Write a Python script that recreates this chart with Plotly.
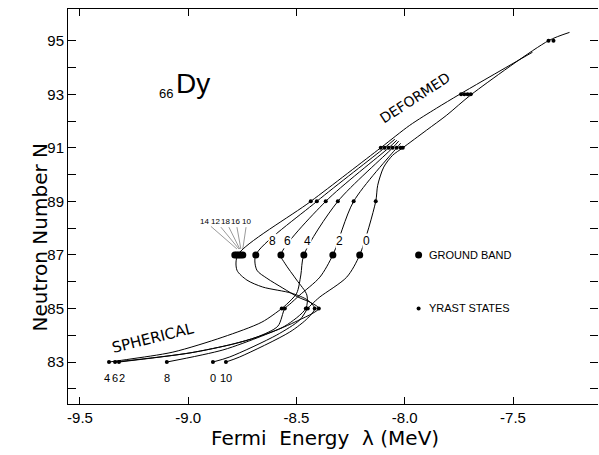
import plotly.graph_objects as go

# ---------------- data ----------------
# Ground band (N = 87) Fermi energies by spin
gb_spins = [0, 2, 4, 6, 8, 14, 12, 18, 16, 10]
gb_E = [-8.208, -8.332, -8.466, -8.572, -8.688, -8.785, -8.776, -8.767, -8.758, -8.748]
gb_N = [87] * len(gb_E)

# Yrast states (small dots)
yr_N83_E = [-9.366, -9.338, -9.320, -9.099, -8.886, -8.826]   # spins 4,6,2,8,0,10
yr_N85_E = [-8.568, -8.554, -8.457, -8.448, -8.416, -8.397]
yr_N89_E = [-8.434, -8.406, -8.365, -8.309, -8.236, -8.134]
yr_N91_E = [-8.111, -8.093, -8.074, -8.056, -8.037, -8.019, -8.009]
yr_N93_E = [-7.740, -7.725, -7.710, -7.695]
yr_N95_E = [-7.336, -7.313]

# Curves traced through the points for each spin
line_spin0_E = [-8.886, -8.808, -8.591, -8.485, -8.448, -8.429, -8.392, -8.268, -8.208,
                -8.134, -8.125, -8.097, -8.056, -8.009, -7.899, -7.806, -7.691, -7.336, -7.239]
line_spin0_N = [83, 83.19, 84.01, 84.57, 85, 85.16, 85.43, 86.17, 87,
                89, 89.6, 90.28, 90.72, 91, 91.66, 92.22, 93, 95, 95.31]

line_spin2_E = [-9.320, -8.992, -8.794, -8.683, -8.586, -8.554, -8.531, -8.485, -8.392, -8.332,
                -8.236, -8.037, -8.019]
line_spin2_N = [83, 83.34, 83.67, 83.93, 84.34, 85, 85.16, 85.50, 86.17, 87,
                89, 91, 91.17]

line_spin4_E = [-9.366, -9.269, -9.071, -8.840, -8.660, -8.568, -8.545, -8.499, -8.480, -8.466,
                -8.309, -8.056, -8.028]
line_spin4_N = [83, 83.11, 83.37, 83.93, 84.49, 85, 85.16, 85.57, 86.25, 87,
                89, 91, 91.25]

line_spin6_E = [-9.338, -8.992, -8.794, -8.683, -8.554, -8.457, -8.452, -8.499, -8.554, -8.572,
                -8.365, -8.074, -8.037]
line_spin6_N = [83, 83.34, 83.67, 83.93, 84.34, 85, 85.50, 86.06, 86.69, 87,
                89, 91, 91.28]

line_spin8_E = [-9.099, -8.840, -8.660, -8.508, -8.397, -8.429, -8.494, -8.563, -8.637, -8.683, -8.688,
                -8.406, -8.093, -8.046]
line_spin8_N = [83, 83.45, 83.97, 84.49, 85, 85.20, 85.43, 85.76, 86.13, 86.43, 87,
                89, 91, 91.32]

line_spin10_E = [-8.826, -8.762, -8.531, -8.448, -8.416, -8.448, -8.522, -8.656, -8.729, -8.775, -8.771,
                 -8.434, -8.111, -7.977, -7.853, -7.746, -7.410]
line_spin10_N = [83, 83.19, 84.12, 84.64, 85, 85.31, 85.57, 85.80, 86.06, 86.43, 87,
                 89, 91, 91.84, 92.48, 93, 94.57]

spin_lines = [(line_spin0_E, line_spin0_N), (line_spin2_E, line_spin2_N),
              (line_spin4_E, line_spin4_N), (line_spin6_E, line_spin6_N),
              (line_spin8_E, line_spin8_N), (line_spin10_E, line_spin10_N)]

# spin labels
lab87_text = ["8", "6", "4", "2", "0"]
lab87_E = [-8.609, -8.540, -8.448, -8.300, -8.176]
lab83_text = ["4", "6", "2", "8", "0", "10"]
lab83_E = [-9.375, -9.340, -9.305, -9.099, -8.886, -8.826]
cluster_text = ["14", "12", "18", "16", "10"]
cluster_lab_E = [-8.923, -8.872, -8.826, -8.780, -8.729]
cluster_tgt_E = [-8.775, -8.766, -8.762, -8.757, -8.748]

x_tickvals = [-9.5, -9.0, -8.5, -8.0, -7.5]
x_ticktext = ["-9.5", "-9.0", "-8.5", "-8.0", "-7.5"]
y_tickvals = list(range(82, 96))
y_ticktext = [str(v) if v % 2 == 1 else "" for v in y_tickvals]

X_RANGE = [-9.5554, -7.1074]
Y_RANGE = [81.432, 96.184]
FONT = "Liberation Sans"
FONT_T = "DejaVu Sans"

fig = go.Figure()

for E, N in spin_lines:
    fig.add_trace(go.Scatter(x=E, y=N, mode="lines", line=dict(color="black", width=1, shape="spline", smoothing=0.8),
                             hoverinfo="skip", showlegend=False))

yr_all_E = yr_N83_E + yr_N85_E + yr_N89_E + yr_N91_E + yr_N93_E + yr_N95_E
yr_all_N = ([83] * len(yr_N83_E) + [85] * len(yr_N85_E) + [89] * len(yr_N89_E) +
            [91] * len(yr_N91_E) + [93] * len(yr_N93_E) + [95] * len(yr_N95_E))
fig.add_trace(go.Scatter(x=yr_all_E, y=yr_all_N, mode="markers",
                         marker=dict(color="black", size=4), showlegend=False, hoverinfo="skip"))
fig.add_trace(go.Scatter(x=gb_E, y=gb_N, mode="markers",
                         marker=dict(color="black", size=7), showlegend=False, hoverinfo="skip"))

# legend markers
fig.add_trace(go.Scatter(x=[-7.936], y=[87], mode="markers", marker=dict(color="black", size=7),
                         showlegend=False, hoverinfo="skip"))
fig.add_trace(go.Scatter(x=[-7.936], y=[85], mode="markers", marker=dict(color="black", size=4),
                         showlegend=False, hoverinfo="skip"))
# invisible trace for right-hand tick axis
fig.add_trace(go.Scatter(x=[-9.0], y=[90], yaxis="y2", mode="markers", marker=dict(opacity=0),
                         showlegend=False, hoverinfo="skip"))

ann = []
ann.append(dict(x=-7.899, y=87, text="GROUND BAND", xanchor="left", yanchor="middle", showarrow=False,
                font=dict(size=11, family=FONT, color="black")))
ann.append(dict(x=-7.899, y=85, text="YRAST STATES", xanchor="left", yanchor="middle", showarrow=False,
                font=dict(size=11, family=FONT, color="black")))
for t, e in zip(lab87_text, lab87_E):
    ann.append(dict(x=e, y=87.51, text=t, showarrow=False, bgcolor="white", borderpad=0,
                    font=dict(size=12, family=FONT, color="black")))
for t, e in zip(lab83_text, lab83_E):
    ann.append(dict(x=e, y=82.40, text=t, showarrow=False,
                    font=dict(size=11, family=FONT, color="black")))
for t, e, te in zip(cluster_text, cluster_lab_E, cluster_tgt_E):
    ann.append(dict(x=te, y=87.22, ax=e, ay=88.26, axref="x", ayref="y", text=t, showarrow=True,
                    arrowhead=0, arrowwidth=0.6, arrowcolor="#555555", standoff=0,
                    font=dict(size=8, family=FONT, color="black")))
ann.append(dict(x=-7.954, y=92.85, text="DEFORMED", textangle=-33, showarrow=False,
                font=dict(size=14, family=FONT_T, color="black")))
ann.append(dict(x=-9.163, y=83.90, text="SPHERICAL", textangle=-14, showarrow=False,
                font=dict(size=15, family=FONT_T, color="black")))
ann.append(dict(x=-9.103, y=93.04, text="66", showarrow=False,
                font=dict(size=13, family=FONT, color="black")))
ann.append(dict(x=-8.979, y=93.40, text="Dy", showarrow=False,
                font=dict(size=28, family=FONT, color="black")))
ann.append(dict(x=0.0, y=0.5, xref="paper", yref="paper", text="Neutron Number N", textangle=-90,
                showarrow=False, xshift=-43, yshift=-31,
                font=dict(size=20, family=FONT_T, color="black")))
ann.append(dict(x=0.485, y=0.0, xref="paper", yref="paper", text="Fermi  Energy  λ (MeV)",
                showarrow=False, yshift=-34, yanchor="middle",
                font=dict(size=20, family=FONT_T, color="black")))

fig.update_layout(
    width=599, height=455,
    margin=dict(l=68, r=1, t=9, b=51),
    plot_bgcolor="white", paper_bgcolor="white",
    annotations=ann,
    xaxis=dict(range=X_RANGE, tickvals=x_tickvals, ticktext=x_ticktext, ticks="inside", ticklen=7,
               tickcolor="black", showline=True, linecolor="black", linewidth=1, mirror="ticks",
               showgrid=False, zeroline=False,
               tickfont=dict(size=15, family=FONT, color="black")),
    yaxis=dict(range=Y_RANGE, tickvals=y_tickvals, ticktext=y_ticktext, ticks="inside", ticklen=8,
               tickcolor="black", showline=True, linecolor="black", linewidth=1, mirror=False,
               showgrid=False, zeroline=False,
               tickfont=dict(size=15, family=FONT, color="black")),
    yaxis2=dict(range=Y_RANGE, tickvals=y_tickvals, overlaying="y", side="right", ticks="inside",
                ticklen=8, tickcolor="black", showline=False, showticklabels=False,
                showgrid=False, zeroline=False),
)

fig.write_html("out.html", config={"displayModeBar": False},
               post_script="document.body.style.margin='0px';")
